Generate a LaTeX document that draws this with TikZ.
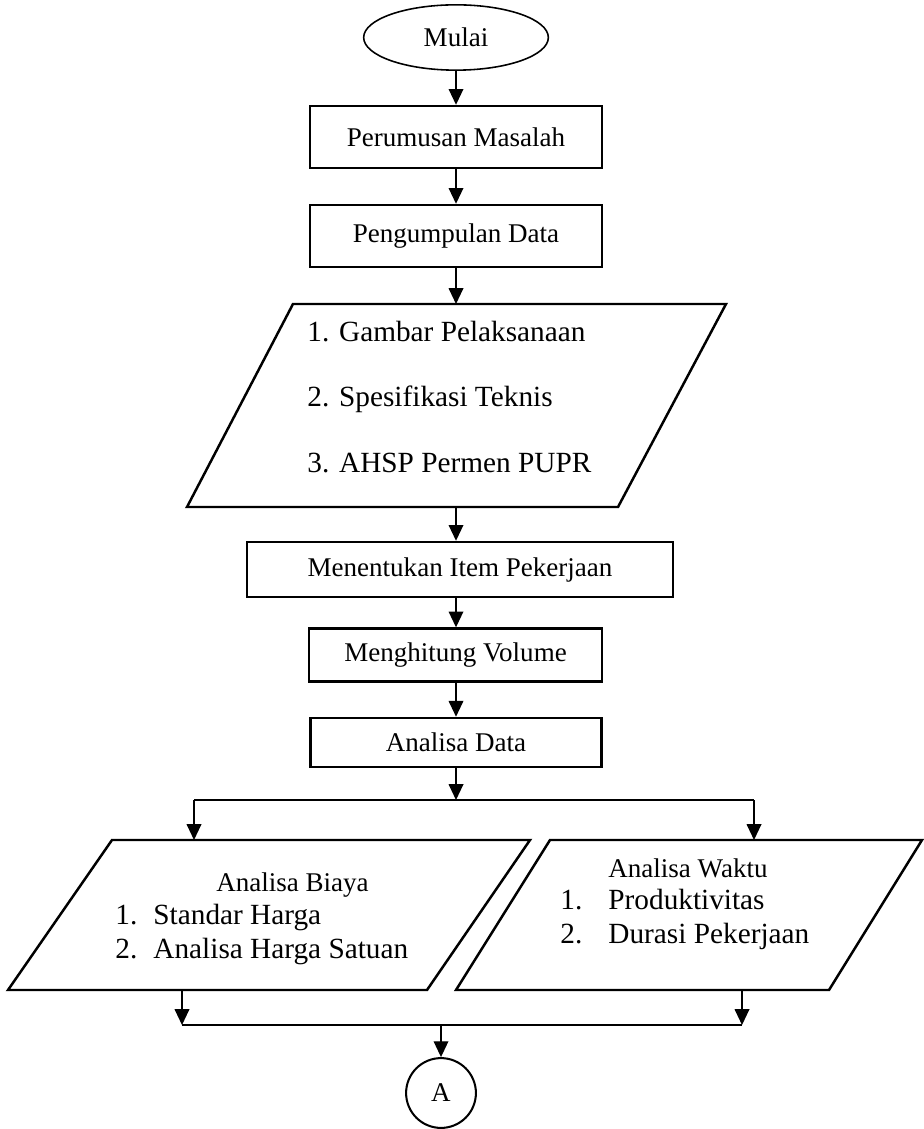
\documentclass[tikz,border=0pt]{standalone}
\usepackage{fontspec}
\setmainfont{Liberation Serif}
\usetikzlibrary{shapes.geometric, arrows.meta}

\tikzset{
  kotak/.style={draw, line width=1.1pt, inner sep=0pt,
                font=\fontsize{12}{14}\selectfont},
  isian/.style={inner sep=0pt, anchor=base west,
                font=\fontsize{13}{15}\selectfont},
  judul/.style={inner sep=0pt, anchor=base,
                font=\fontsize{12}{14}\selectfont},
  panah/.style={line width=0.6pt, -{Triangle[width=6.5pt,length=7pt]}},
  garis/.style={line width=0.6pt},
}

\begin{document}
\begin{tikzpicture}[x=0.444pt, y=-0.444pt]

\useasboundingbox (0,0) rectangle (924,1129);

% ================================================================
%  Alur utama — kolom tengah x = 456
% ================================================================
\node[draw, ellipse, line width=0.7pt, inner sep=0pt,
      minimum width=82pt, minimum height=29pt,
      font=\fontsize{12}{14}\selectfont] (mulai) at (456, 37.5) {Mulai};
\node[kotak, minimum width=129.7pt, minimum height=27.5pt] (rumus)
    at (456, 137) {Perumusan Masalah};
\node[kotak, minimum width=129.7pt, minimum height=27.5pt] (kumpul)
    at (456, 236) {Pengumpulan Data};

% Jajar genjang data masukan
\draw[line width=1.1pt] (293, 304) -- (726, 304) -- (618, 507)
    -- (187, 507) -- cycle;
\coordinate (data-n) at (456, 304);
\coordinate (data-s) at (456, 507);
\foreach \i/\isi/\yy in {1/Gambar Pelaksanaan/342,
                         2/Spesifikasi Teknis/407,
                         3/AHSP Permen PUPR/472}{
    \node[isian] (data\i) at (307, \yy) {\i. \isi};
}

\node[kotak, minimum width=189.2pt, minimum height=24.4pt] (tentukan)
    at (460, 569.5) {Menentukan Item Pekerjaan};
\node[kotak, minimum width=130.1pt, minimum height=23.5pt] (hitung)
    at (455.5, 655) {Menghitung Volume};
\node[kotak, minimum width=129.2pt, minimum height=21.8pt] (analisa)
    at (456, 742.5) {Analisa Data};

% Panah kolom tengah
\draw[panah] (mulai) -- (rumus);
\draw[panah] (rumus) -- (kumpul);
\draw[panah] (kumpul) -- (data-n);
\draw[panah] (data-s) -- (data-s |- tentukan.north);
\draw[panah] (tentukan.south -| data-s) -- (hitung.north -| data-s);
\draw[panah] (hitung.south -| data-s) -- (analisa.north -| data-s);

% ================================================================
%  Percabangan — Analisa Biaya / Analisa Waktu
% ================================================================
\coordinate (cabang)    at (456, 800);
\coordinate (cab-kiri)  at (194, 800);
\coordinate (cab-kanan) at (754, 800);
\coordinate (biaya-n)   at (194, 840);
\coordinate (waktu-n)   at (754, 840);

\draw[panah] (analisa) -- (cabang);
\draw[garis] (cab-kiri) -- (cab-kanan);
\draw[panah] (cab-kiri) -- (biaya-n);
\draw[panah] (cab-kanan) -- (waktu-n);

\draw[line width=1.1pt] (112, 840) -- (530, 840) -- (427, 990)
    -- (8, 990) -- cycle;
\draw[line width=1.1pt] (550, 840) -- (922, 840) -- (829, 990)
    -- (456, 990) -- cycle;

\node[judul] (biaya) at (292.5, 891) {Analisa Biaya};
\node[isian] (biaya1n) at (115, 924) {1.};
\node[isian] (biaya1)  at (153, 924) {Standar Harga};
\node[isian] (biaya2n) at (115, 958) {2.};
\node[isian] (biaya2)  at (153, 958) {Analisa Harga Satuan};

\node[judul] (waktu) at (688, 877) {Analisa Waktu};
\node[isian] (waktu1n) at (560, 909) {1.};
\node[isian] (waktu1)  at (608, 909) {Produktivitas};
\node[isian] (waktu2n) at (560, 943) {2.};
\node[isian] (waktu2)  at (608, 943) {Durasi Pekerjaan};

% ================================================================
%  Penggabungan ke penghubung A
% ================================================================
\coordinate (biaya-s)   at (182, 990);
\coordinate (waktu-s)   at (742, 990);
\coordinate (gab-kiri)  at (182, 1025);
\coordinate (gab-kanan) at (742, 1025);
\coordinate (gabung)    at (441, 1025);

\node[draw, circle, line width=0.9pt, inner sep=0pt, minimum size=31pt,
      font=\fontsize{12}{14}\selectfont] (konektor) at (441, 1093) {A};

\draw[panah] (biaya-s) -- (gab-kiri);
\draw[panah] (waktu-s) -- (gab-kanan);
\draw[garis] (gab-kiri) -- (gab-kanan);
\draw[panah] (gabung) -- (konektor);

\end{tikzpicture}
\end{document}
